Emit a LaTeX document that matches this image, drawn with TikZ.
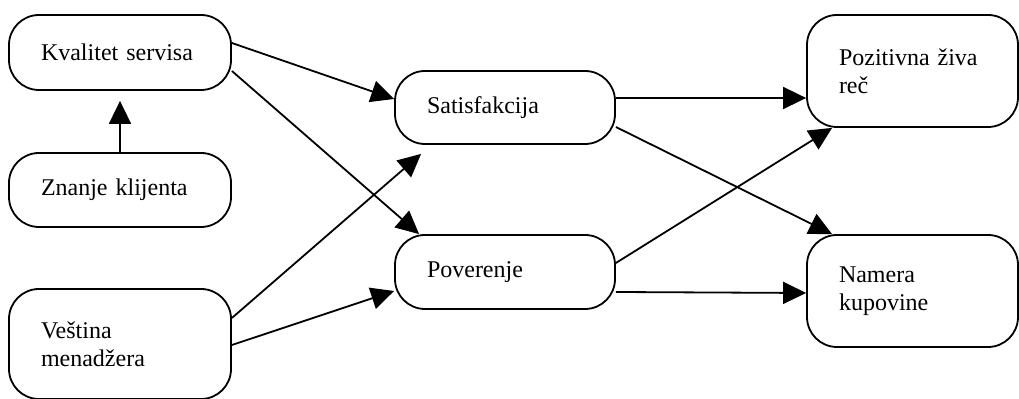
\documentclass[tikz,border=0pt]{standalone}
\usepackage{fontspec}
\setmainfont{Liberation Serif}
\usetikzlibrary{arrows.meta}

\begin{document}
\begin{tikzpicture} [x=0.5pt,y=-0.5pt,line width=0.9pt,
			>={Triangle[length=11.5pt,width=11pt]},
			factor/.style={draw,rounded corners=15pt,align=left,inner xsep=16pt,inner ysep=0pt,
				font=\fontsize{12pt}{14pt}\selectfont},
			left factor/.style={factor,text width=79pt},
			middle factor/.style={factor,text width=78pt,minimum height=37pt},
			right factor/.style={factor,text width=73.5pt,minimum height=56pt},
			link/.style={->}
			]
		\useasboundingbox (0,0) rectangle (1019,399);
		%\draw[step=50, color=gray] (0,0) grid (1019,399);
		\node [left factor, minimum height=37.5pt] (kvalitet) at (120,52.5) {Kvalitet servisa};
		\node [left factor, minimum height=37pt] (znanje) at (120,190) {Znanje klijenta};
		\node [left factor, minimum height=55pt] (vestina) at (120,344) {Veština\\menadžera};

		\node [middle factor, minimum height=36.5pt] (satisfakcija) at (505,107.5) {Satisfakcija};
		\node [middle factor] (poverenje) at (505,272) {Poverenje};

		\node [right factor] (preporuka) at (912.5,71) {Pozitivna živa\\reč};
		\node [right factor] (namera) at (912.5,291) {Namera\\kupovine};

		\draw [link, shorten >=5pt] (znanje.north) -- (kvalitet.south);
		\draw [link] ([yshift=4.75pt]kvalitet.east) -- ([yshift=4.25pt]satisfakcija.west);
		\draw [link] ([yshift=-9.25pt]kvalitet.east) -- ([xshift=12.5pt]poverenje.north west);
		\draw [link] ([yshift=13pt]vestina.east) -- ([xshift=13.5pt,yshift=-4.5pt]satisfakcija.south west);
		\draw [link] ([yshift=-0.5pt]vestina.east) -- ([yshift=-9.5pt]poverenje.west);

		\draw [link] ([yshift=4.75pt]satisfakcija.east) -- ([yshift=-13.5pt]preporuka.west);
		\draw [link] ([yshift=-9.75pt]satisfakcija.east) -- ([xshift=13pt]namera.north west);
		\draw [link] ([yshift=4.5pt]poverenje.east) -- ([xshift=13pt]preporuka.south west);
		\draw [link] ([yshift=-10pt]poverenje.east) -- ([yshift=-1pt]namera.west);
		\end{tikzpicture}
\end{document}
